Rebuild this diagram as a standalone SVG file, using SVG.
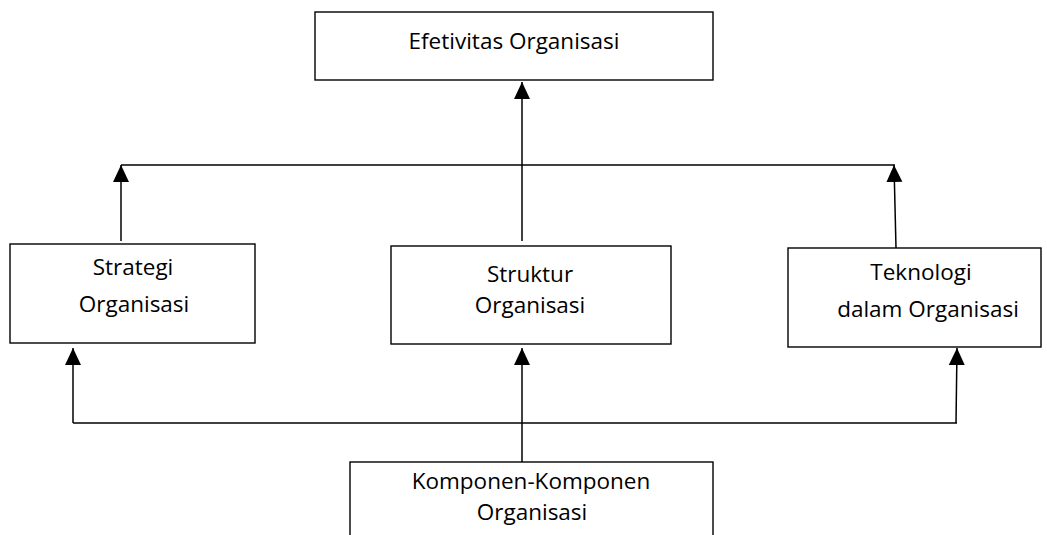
<svg xmlns="http://www.w3.org/2000/svg" width="1047" height="535" viewBox="0 0 1047 535">
<style>
.box{fill:#fff;stroke:#000;stroke-width:1.4}
.ln{fill:none;stroke:#000;stroke-width:1.5}
.t{font-family:"Open Sans","Liberation Sans",sans-serif;font-size:22.5px;fill:#000;text-anchor:middle}
</style>
<defs>
<marker id="ah" markerUnits="userSpaceOnUse" markerWidth="18" markerHeight="18" viewBox="0 0 18 18" refX="17" refY="9" orient="auto">
<path d="M0,1 L17,9 L0,17 Z" fill="#000"/>
</marker>
</defs>
<rect width="1047" height="535" fill="#fff"/>
<g id="connectors">
<line class="ln" x1="121" y1="165" x2="895" y2="165"/>
<line class="ln" x1="73" y1="423" x2="957" y2="423"/>
<line class="ln" x1="522" y1="241" x2="522" y2="82" marker-end="url(#ah)"/>
<line class="ln" x1="121" y1="241" x2="121" y2="165" marker-end="url(#ah)"/>
<line class="ln" x1="896" y1="248" x2="894" y2="165" marker-end="url(#ah)"/>
<line class="ln" x1="73" y1="423" x2="73" y2="348" marker-end="url(#ah)"/>
<line class="ln" x1="956" y1="423" x2="957" y2="348" marker-end="url(#ah)"/>
<line class="ln" x1="522" y1="462" x2="522" y2="348" marker-end="url(#ah)"/>
</g>
<g id="efetivitas">
<rect class="box" x="315" y="12" width="398" height="68"/>
<text class="t" x="514" y="49">Efetivitas Organisasi</text>
</g>
<g id="strategi">
<rect class="box" x="10" y="244" width="245" height="99"/>
<text class="t" x="133" y="275">Strategi</text>
<text class="t" x="134" y="312">Organisasi</text>
</g>
<g id="struktur">
<rect class="box" x="391" y="246" width="280" height="98"/>
<text class="t" x="530" y="282">Struktur</text>
<text class="t" x="530" y="313">Organisasi</text>
</g>
<g id="teknologi">
<rect class="box" x="788" y="248" width="253" height="99"/>
<text class="t" x="921" y="280">Teknologi</text>
<text class="t" x="928" y="317">dalam Organisasi</text>
</g>
<g id="komponen">
<rect class="box" x="350" y="462" width="363" height="90"/>
<text class="t" x="531" y="489">Komponen-Komponen</text>
<text class="t" x="532" y="520">Organisasi</text>
</g>
</svg>
